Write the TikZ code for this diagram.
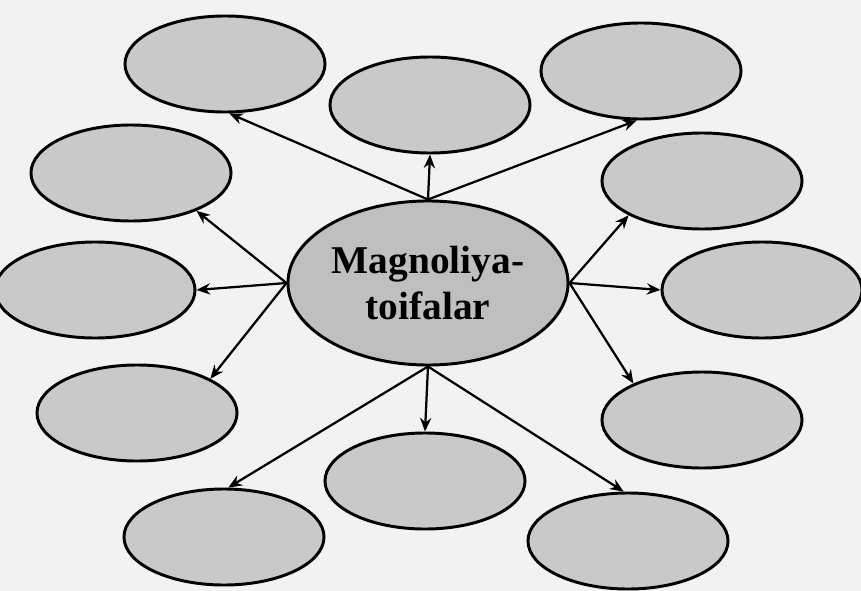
\documentclass[tikz,border=0pt]{standalone}
\usepackage{fontspec}
\setmainfont{Liberation Serif}
\usetikzlibrary{shapes.geometric,arrows.meta}

\begin{document}
\begin{tikzpicture}[x=.025cm,y=-.025cm,line width=1.6pt,
  leaf/.style={ellipse,draw,line width=2.1pt,fill=black!21,inner sep=0pt,
    minimum width=5cm,minimum height=2.4cm},
  arr/.style={-{Stealth[length=3.4mm,width=2.8mm]}}]
\useasboundingbox[fill=black!5] (0,0) rectangle (861,591);
\node[leaf,fill=black!25,minimum width=7cm,minimum height=4.1cm,align=center,
  font=\fontsize{28}{33}\selectfont\bfseries] (mag) at (428,283) {Magnoliya-\\toifalar};
\foreach \n/\x/\y in {a/225/64,b/430/105,c/641/71,d/131/173,e/702/181,f/95/290,
  g/762/290,h/137/413,k/702/420,j/425/481,i/224/537,l/628/541}
  \node[leaf] (\n) at (\x,\y) {};
% arrows: start on the big ellipse, end on the facing side of each small one
\foreach \n/\s/\t in {a/north/-85,b/north/south,c/north/-95,d/west/-30,f/west/east,
  h/west/25,e/east/205,g/east/west,k/east/152,i/south/85,j/south/north,l/south/95}
  \draw[arr] (mag.\s) -- (\n.\t);
\end{tikzpicture}
\end{document}
